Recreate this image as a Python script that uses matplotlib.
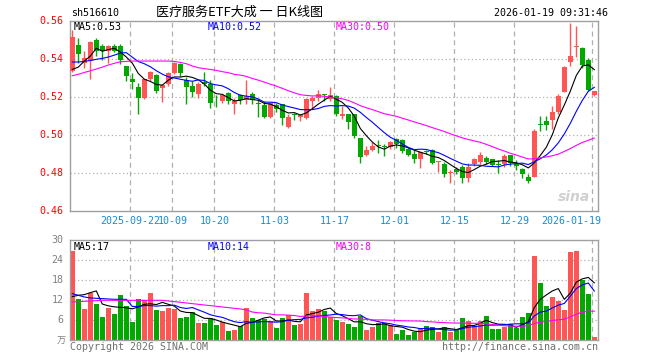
import matplotlib
matplotlib.use("Agg")
import matplotlib.pyplot as plt
import numpy as np
import pandas as pd

# ---------------- data ----------------
opens = [0.5335,0.5470,0.5379,0.5388,0.5498,0.5467,0.5440,0.5467,0.5467,0.5362,
         0.5295,0.5253,0.5194,0.5295,0.5314,0.5244,0.5265,0.5327,0.5374,0.5286,
         0.5257,0.5216,0.5278,0.5269,0.5164,0.5178,0.5218,0.5164,0.5207,0.5185,
         0.5216,0.5166,0.5157,0.5096,0.5155,0.5160,0.5043,0.5111,0.5096,0.5090,
         0.5178,0.5195,0.5216,0.5187,0.5204,0.5099,0.5111,0.5111,0.4982,0.4893,
         0.4921,0.4945,0.4943,0.4936,0.4978,0.4975,0.4924,0.4901,0.4872,0.4915,
         0.4919,0.4856,0.4845,0.4798,0.4819,0.4831,0.4772,0.4849,0.4859,0.4880,
         0.4872,0.4849,0.4845,0.4893,0.4845,0.4823,0.4780,0.4780,0.5055,0.5073,
         0.5078,0.5120,0.5227,0.5383,0.5461,0.5458,0.5393,0.5209]
highs = [0.5549,0.5507,0.5440,0.5493,0.5507,0.5475,0.5470,0.5480,0.5479,0.5362,
         0.5327,0.5274,0.5295,0.5335,0.5318,0.5265,0.5332,0.5383,0.5376,0.5304,
         0.5283,0.5279,0.5330,0.5286,0.5209,0.5216,0.5227,0.5192,0.5216,0.5286,
         0.5227,0.5187,0.5178,0.5174,0.5169,0.5164,0.5108,0.5117,0.5108,0.5195,
         0.5204,0.5234,0.5216,0.5251,0.5209,0.5150,0.5111,0.5111,0.4982,0.4943,
         0.4964,0.4971,0.4951,0.4968,0.4982,0.4978,0.4936,0.4919,0.4915,0.4922,
         0.4924,0.4861,0.4859,0.4816,0.4831,0.4840,0.4851,0.4880,0.4912,0.4891,
         0.4873,0.4866,0.4901,0.4896,0.4868,0.4828,0.4793,0.5031,0.5099,0.5099,
         0.5152,0.5216,0.5362,0.5589,0.5572,0.5461,0.5402,0.5230]
lows = [0.5330,0.5379,0.5353,0.5292,0.5414,0.5391,0.5379,0.5437,0.5370,0.5283,
        0.5243,0.5108,0.5190,0.5283,0.5222,0.5173,0.5257,0.5318,0.5309,0.5160,
        0.5199,0.5195,0.5257,0.5139,0.5146,0.5169,0.5164,0.5108,0.5164,0.5160,
        0.5164,0.5094,0.5090,0.5090,0.5120,0.5052,0.5038,0.5078,0.5073,0.5085,
        0.5134,0.5178,0.5178,0.5178,0.5097,0.5082,0.5029,0.4982,0.4854,0.4887,
        0.4917,0.4907,0.4887,0.4924,0.4929,0.4907,0.4889,0.4851,0.4824,0.4898,
        0.4849,0.4807,0.4779,0.4746,0.4793,0.4746,0.4753,0.4837,0.4849,0.4849,
        0.4835,0.4798,0.4831,0.4837,0.4814,0.4775,0.4746,0.4779,0.5020,0.5026,
        0.5033,0.5108,0.5225,0.5362,0.5411,0.5353,0.5230,0.5204]
closes = [0.5516,0.5426,0.5405,0.5488,0.5440,0.5440,0.5467,0.5440,0.5391,0.5309,
          0.5278,0.5195,0.5292,0.5330,0.5230,0.5260,0.5327,0.5376,0.5327,0.5253,
          0.5227,0.5265,0.5265,0.5166,0.5160,0.5209,0.5178,0.5178,0.5185,0.5204,
          0.5183,0.5160,0.5096,0.5166,0.5134,0.5087,0.5094,0.5104,0.5103,0.5190,
          0.5195,0.5216,0.5209,0.5207,0.5111,0.5111,0.5069,0.4994,0.4884,0.4922,
          0.4943,0.4940,0.4936,0.4964,0.4954,0.4915,0.4893,0.4872,0.4910,0.4908,
          0.4854,0.4861,0.4793,0.4805,0.4807,0.4772,0.4833,0.4872,0.4894,0.4859,
          0.4842,0.4842,0.4889,0.4854,0.4838,0.4793,0.4758,0.5020,0.5050,0.5054,
          0.5120,0.5204,0.5356,0.5414,0.5467,0.5367,0.5237,0.5230]
volumes = [26.8,12.5,9.5,14.3,11.0,7.1,9.8,8.0,13.6,10.3,
           5.5,12.5,12.1,14.3,9.2,8.8,9.6,9.5,6.8,7.1,
           8.5,5.3,5.3,6.6,4.7,5.5,2.8,3.1,4.3,9.8,
           6.8,6.2,6.5,5.7,3.8,6.8,7.5,4.6,5.0,14.2,
           8.8,9.5,8.8,7.0,6.1,5.5,4.9,4.1,7.3,3.1,
           4.1,5.1,5.1,4.5,1.9,3.1,1.6,2.6,3.7,4.3,
           4.1,2.5,4.0,2.5,3.0,6.7,5.8,4.3,5.8,7.3,
           3.4,3.4,4.1,4.8,3.8,7.0,8.2,25.3,17.2,10.3,
           13.0,11.8,9.1,26.5,26.8,18.0,13.9,1.0]

ma5_head = [0.5344,0.5356,0.5388,0.5414]
ma10_head = [0.5383,0.5383,0.5386,0.5391,0.5397,0.5402,0.5409,0.5419,0.5430]
ma30_head = [0.5311,0.5318,0.5328,0.5337,0.5346,0.5356,0.5367,0.5376,0.5384,0.5386,
             0.5388,0.5388,0.5388,0.5388,0.5388,0.5388,0.5388,0.5386,0.5381,0.5374,
             0.5362,0.5353,0.5348,0.5344,0.5339,0.5332,0.5327,0.5318,0.5314]
vma5_head = [13.1,13.5,13.7,14.3]
vma10_head = [14.0,13.5,13.0,12.7,12.6,12.5,12.4,12.3,12.3]
vma30_head = [11.5,11.6,11.7,11.8,11.9,12.0,12.0,12.0,12.0,12.0,
              12.0,12.0,12.0,12.0,12.0,12.0,11.8,11.6,11.4,11.2,
              11.0,10.8,10.6,10.4,10.2,10.0,9.8,9.6,9.4]

holidays = ["2025-10-01","2025-10-02","2025-10-03","2025-10-06","2025-10-07",
            "2025-10-08","2026-01-01","2026-01-02"]
tick_dates = ["2025-09-22","2025-10-09","2025-10-20","2025-11-03","2025-11-17",
              "2025-12-01","2025-12-15","2025-12-29","2026-01-19"]
tick_labels = ["2025-09-22","10-09","10-20","11-03","11-17","12-01","12-15","12-29","2026-01-19"]
price_ticks = [0.56,0.54,0.52,0.50,0.48,0.46]
vol_ticks = [30,24,18,12,6]
title_code = "sh516610"
title_name = "医疗服务ETF大成 一 日K线图"
title_time = "2026-01-19 09:31:46"
price_ma_labels = ["MA5:0.53","MA10:0.52","MA30:0.50"]
vol_ma_labels = ["MA5:17","MA10:14","MA30:8"]

# ---------------- derived ----------------
days = pd.bdate_range("2025-09-08","2026-01-19")
days = days[~days.isin(pd.to_datetime(holidays))]
n = len(closes)
x = np.arange(n)
o = np.array(opens); h = np.array(highs); l = np.array(lows); c = np.array(closes)
v = np.array(volumes)

def ma(arr, w, head):
    s = pd.Series(arr).rolling(w).mean().to_numpy()
    s[:len(head)] = head
    return s

RED = "#ff5555"
GREEN = "#00a800"
MONO = "DejaVu Sans Mono"

W, H = 660, 360
fig = plt.figure(figsize=(6.6, 3.6), dpi=100)
fig.patch.set_facecolor("white")

def fx(px): return px / W
def fy(py): return 1 - py / H

L_PX, R_PX = 70, 598
ax = fig.add_axes([fx(L_PX), fy(211), (R_PX - L_PX) / W, (211 - 20.7) / H])
axv = fig.add_axes([fx(L_PX), fy(340.3), (R_PX - L_PX) / W, (340.3 - 240.3) / H])

x0 = (L_PX - 72.3) / 6.0
x1 = (R_PX - 72.3) / 6.0

up = c > o
cols = np.where(up, RED, GREEN)
tick_idx = [int(np.where(days == pd.Timestamp(d))[0][0]) for d in tick_dates]

for a in (ax, axv):
    a.set_xlim(x0, x1)
    for s in a.spines.values():
        s.set_color("#a0a0a0")
        s.set_linewidth(1.0)
    a.set_xticks([])
    a.set_yticks([])
    for ti in tick_idx:
        a.axvline(ti - 0.33, color="#b0b0b0", lw=0.9, ls=(0, (4, 3)), zorder=0)

# price panel
ax.set_ylim(0.46, 0.56)
for yv in price_ticks[1:-1]:
    ax.axhline(yv, color="#b0b0b0", lw=0.9, ls=(0, (1, 2)), zorder=0)
ax.vlines(x, l, h, colors=cols, lw=1.0, zorder=2)
body_h = np.abs(c - o)
body_h = np.maximum(body_h, 0.0004)
ax.bar(x, body_h, bottom=np.minimum(o, c), width=0.78, color=cols, edgecolor=cols,
       linewidth=0, zorder=3)
ax.plot(x, ma(c, 5, ma5_head), color="black", lw=0.8, zorder=4)
ax.plot(x, ma(c, 10, ma10_head), color="#0000ff", lw=0.8, zorder=4)
ax.plot(x, ma(c, 30, ma30_head), color="#ff00ff", lw=0.8, zorder=4)

# volume panel
axv.set_ylim(0, 30)
for yv in vol_ticks[1:]:
    axv.axhline(yv, color="#b0b0b0", lw=0.9, ls=(0, (1, 2)), zorder=0)
axv.bar(x, v, width=0.78, color=cols, linewidth=0, zorder=2)
axv.plot(x, ma(v, 5, vma5_head), color="black", lw=0.8, zorder=4)
axv.plot(x, ma(v, 10, vma10_head), color="#0000ff", lw=0.8, zorder=4)
axv.plot(x, ma(v, 30, vma30_head), color="#ff00ff", lw=0.8, zorder=4)

# y tick labels
for yv in price_ticks:
    ax.text(-0.012, yv, f"{yv:.2f}", transform=ax.get_yaxis_transform(), ha="right",
            va="center", fontsize=7.2, color="#ff0000", family=MONO)
for yv in vol_ticks:
    axv.text(-0.012, yv, f"{yv}", transform=axv.get_yaxis_transform(), ha="right",
             va="center", fontsize=7.2, color="#808080", family=MONO, clip_on=False)
fig.text(fx(66), fy(341), "万", ha="right", va="center", fontsize=6.5, color="#808080",
         family=["Noto Sans CJK SC", "DejaVu Sans"])

# date labels
for ti, lab in zip(tick_idx, tick_labels):
    xd = ti - 0.33
    ha = "center"
    if lab == tick_labels[-1]:
        ha = "right"
        xd = x1 + 0.6
    ax.text(xd, -0.05, lab, transform=ax.get_xaxis_transform(), ha=ha, va="center",
            fontsize=7.2, color="#1a8ad4", family=MONO)

# MA labels
ma_cols = ["black", "#0000ff", "#ff00ff"]
ma_px = [74, 208, 336]
for lab, colr, px in zip(price_ma_labels, ma_cols, ma_px):
    fig.text(fx(px), fy(27), lab, ha="left", va="center", fontsize=7.2, color=colr, family=MONO)
for lab, colr, px in zip(vol_ma_labels, ma_cols, ma_px):
    fig.text(fx(px), fy(246.5), lab, ha="left", va="center", fontsize=7.2, color=colr, family=MONO)

# titles
fig.text(fx(71), fy(12.5), title_code, ha="left", va="center", fontsize=7.2, family=MONO)
fig.text(fx(240), fy(12.5), title_name, ha="center", va="center", fontsize=9.4,
         family=["Noto Sans CJK SC", "DejaVu Sans"])
fig.text(fx(608), fy(12.5), title_time, ha="right", va="center", fontsize=7.2, family=MONO)

# footer
fig.text(fx(70), fy(347.5), "Copyright 2026 SINA.COM", ha="left", va="center",
         fontsize=7.2, color="#707070", family=MONO)
fig.text(fx(598), fy(347.5), "http://finance.sina.com.cn", ha="right", va="center",
         fontsize=7.2, color="#707070", family=MONO)

# watermark
fig.text(fx(590), fy(197), "sina", ha="right", va="center", fontsize=10, color="#d0d0d0",
         style="italic", weight="bold", family="DejaVu Sans")

fig.savefig("out.png", dpi=100)
